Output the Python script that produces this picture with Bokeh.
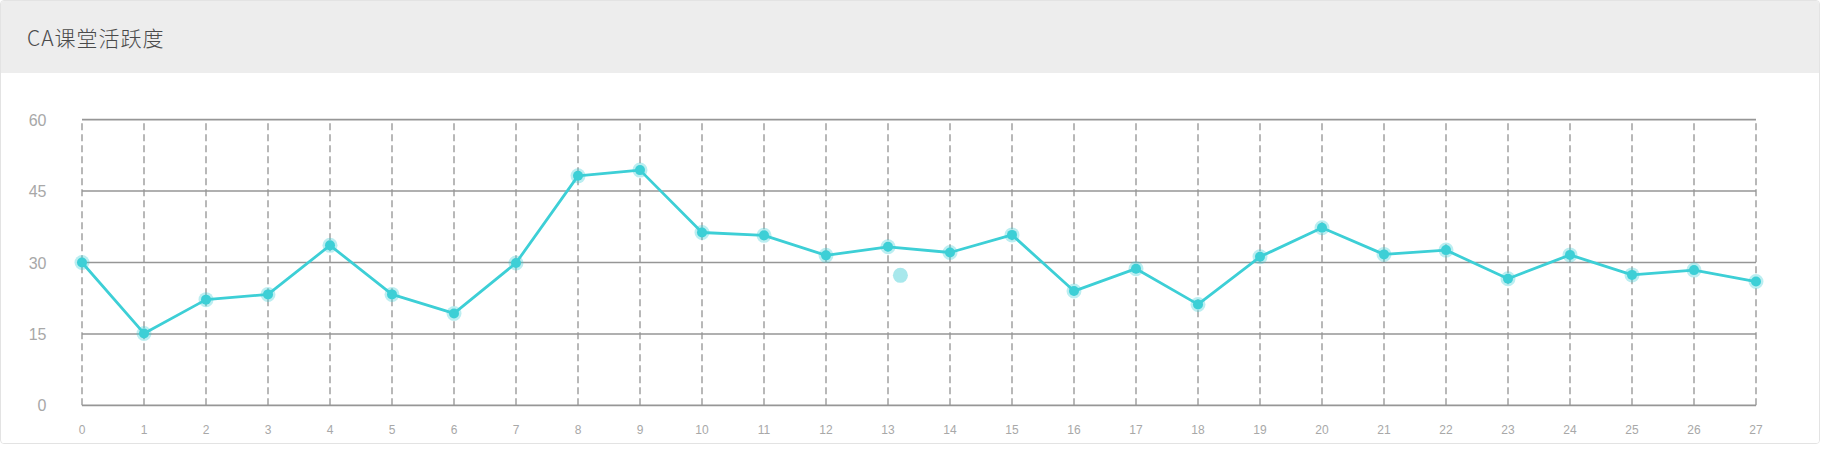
from bokeh.plotting import figure
from bokeh.layouts import column
from bokeh.models import Range1d, FixedTicker, Div
from bokeh.embed import file_html
from bokeh.resources import INLINE

# data
lessons = list(range(28))
activity = [30.0, 15.1, 22.2, 23.3, 33.6, 23.3, 19.3, 29.9, 48.2, 49.4,
            36.3, 35.7, 31.5, 33.3, 32.1, 35.8, 24.0, 28.7, 21.2, 31.2,
            37.3, 31.7, 32.6, 26.6, 31.6, 27.4, 28.4, 26.0]
y_ticks = [0, 15, 30, 45, 60]
# stray highlighted point (hover marker)
hover_x = [13.2]
hover_y = [27.3]

LINE = "#3dcfd6"
W = 1818

# header band with the title
header = Div(
    text=("<div style='width:1818px;height:72px;box-sizing:border-box;"
          "padding-left:26px;line-height:72px;background:#ededed;"
          "font-family:\"Noto Sans CJK SC\";font-weight:300;font-size:21px;"
          "color:#4a4a4a;letter-spacing:1px;'>CA课堂活跃度</div>"),
    width=W, height=72, margin=0,
)

# main chart
p = figure(width=W, height=370, toolbar_location=None, output_backend="svg",
           x_range=Range1d(-0.25, 27.25), y_range=Range1d(-1.5, 61.5),
           min_border_left=65, min_border_right=48,
           min_border_top=39, min_border_bottom=31)
p.outline_line_color = None
p.background_fill_color = "white"
p.border_fill_color = "white"
p.xgrid.visible = False
p.ygrid.visible = False

# dashed vertical lines at every lesson
p.segment(x0=lessons, y0=[y_ticks[0]] * len(lessons),
          x1=lessons, y1=[y_ticks[-1]] * len(lessons),
          line_color="#b8b8b8", line_width=2, line_dash="7 4")
# solid horizontal lines at the y ticks
p.segment(x0=[lessons[0]] * len(y_ticks), y0=y_ticks,
          x1=[lessons[-1]] * len(y_ticks), y1=y_ticks,
          line_color="#969696", line_width=1.6)

p.line(lessons, activity, line_color=LINE, line_width=2.8)
p.scatter(lessons, activity, size=15, fill_color=LINE, fill_alpha=0.35, line_color=None)
p.scatter(lessons, activity, size=10, fill_color=LINE, line_color=None)
p.scatter(hover_x, hover_y, size=15, fill_color="#a8e8ec", line_color=None)

p.xaxis.ticker = FixedTicker(ticks=lessons)
p.yaxis.ticker = FixedTicker(ticks=y_ticks)
for ax in (p.xaxis, p.yaxis):
    ax.axis_line_color = None
    ax.major_tick_line_color = None
    ax.minor_tick_line_color = None
    ax.major_label_text_color = "#a8a8a8"
    ax.major_label_text_font = "Liberation Sans"
p.xaxis.major_label_text_font_size = "12px"
p.xaxis.major_label_standoff = 6
p.yaxis.major_label_text_font_size = "16px"
p.yaxis.major_label_standoff = 14

layout = column(header, p, spacing=0,
                styles={"border": "1px solid #e3e3e3", "border-radius": "4px",
                        "overflow": "hidden"})

open("out.html", "w").write(file_html(layout, INLINE))
